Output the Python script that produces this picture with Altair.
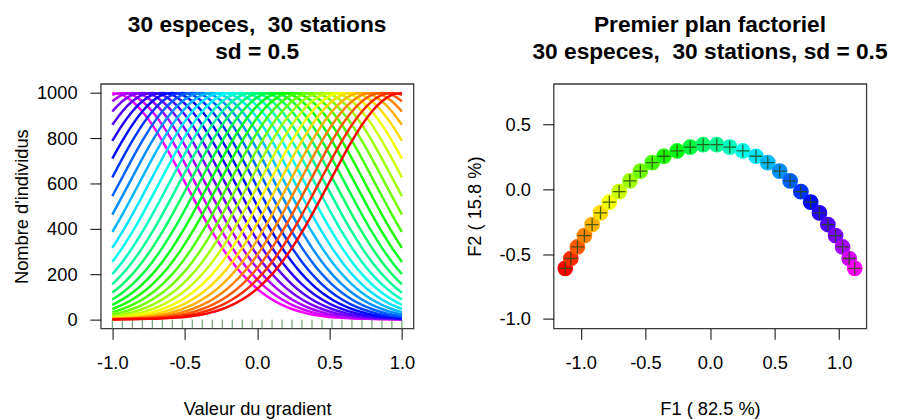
import colorsys
import altair as alt
import pandas as pd

# ---------------- data ----------------
# 30 stations along the gradient (rug ticks / x of the response curves)
stations = [-1.000, -0.931, -0.862, -0.793, -0.724, -0.655, -0.586, -0.517, -0.448, -0.379,
            -0.310, -0.241, -0.172, -0.103, -0.034, 0.034, 0.103, 0.172, 0.241, 0.310,
            0.379, 0.448, 0.517, 0.586, 0.655, 0.724, 0.793, 0.862, 0.931, 1.000]

# abundance of a species at a station, by distance (in station steps) to its optimum
profile = [1000, 991, 963, 918, 859, 788, 710, 627, 544, 463, 386, 316, 254, 200, 155,
           118, 88, 64, 46, 32, 22, 15, 10, 7, 4, 3, 2, 1, 1, 0]

# station index of each species optimum (species listed in drawing order: magenta ... red)
optimum_index = list(range(30))
species = ["e%02d" % (k + 1) for k in range(30)]

# first factorial plane (red -> magenta)
f1 = [-1.120, -1.077, -1.026, -0.972, -0.912, -0.847, -0.779, -0.703, -0.620, -0.539,
      -0.447, -0.356, -0.254, -0.153, -0.053, 0.053, 0.153, 0.254, 0.356, 0.447,
      0.539, 0.620, 0.703, 0.779, 0.847, 0.912, 0.972, 1.026, 1.077, 1.120]
f2 = [-0.610, -0.534, -0.445, -0.357, -0.272, -0.182, -0.099, -0.018, 0.065, 0.140,
      0.206, 0.255, 0.296, 0.325, 0.344, 0.344, 0.325, 0.296, 0.255, 0.206,
      0.140, 0.065, -0.018, -0.099, -0.182, -0.272, -0.357, -0.445, -0.534, -0.610]

NB = "\u00a0"  # keeps the double space visible in SVG text
left_title = ["30 especes," + NB + " 30 stations", "sd = 0.5"]
right_title = ["Premier plan factoriel", "30 especes," + NB + " 30 stations, sd = 0.5"]

# rainbow palette red (0) -> magenta (300 deg)
def rainbow(n):
    out = []
    for i in range(n):
        r, g, b = colorsys.hsv_to_rgb((i / (n - 1)) * 300 / 360, 1, 1)
        out.append("#%02x%02x%02x" % (round(r * 255), round(g * 255), round(b * 255)))
    return out

pal = rainbow(30)               # red ... magenta
pal_draw = pal[::-1]            # magenta ... red (drawing order of species)

rows = []
for s, opt in zip(species, optimum_index):
    for j, xv in enumerate(stations):
        rows.append({"sp": s, "x": xv, "n": profile[abs(j - opt)]})
curves = pd.DataFrame(rows)
rug = pd.DataFrame({"x": stations})
plane = pd.DataFrame({"f1": f1, "f2": f2, "pt": ["p%02d" % (k + 1) for k in range(30)]})

FONT = "Liberation Sans"
W, H = 317, 248
neg = "(datum.value < 0 ? '-' : '') + format(abs(datum.value), '.1f')"

# ---------------- left panel ----------------
xl = alt.X("x:Q", scale=alt.Scale(domain=[-1.08, 1.08], nice=False, zero=False),
           axis=alt.Axis(values=[-1, -0.5, 0, 0.5, 1], labelExpr=neg,
                         title="Valeur du gradient", titleX=W / 2, titleY=87,
                         titleBaseline="alphabetic", labelPadding=15))
yl = alt.Y("n:Q", scale=alt.Scale(domain=[-40, 1040], nice=False, zero=False),
           axis=alt.Axis(values=[0, 200, 400, 600, 800, 1000], format="d",
                         title="Nombre d'individus", titleX=-80, titleY=H / 2,
                         titleBaseline="middle", titleAngle=-90, labelPadding=13))

lines = alt.Chart(curves).mark_line(strokeWidth=2.5, interpolate="monotone").encode(
    x=xl, y=yl,
    color=alt.Color("sp:N", scale=alt.Scale(domain=species, range=pal_draw), legend=None),
)
rugs = alt.Chart(rug).mark_rule(color="#4f8f4f", strokeWidth=1).encode(
    x=alt.X("x:Q"), y=alt.value(H - 9), y2=alt.value(H)
)
left = alt.layer(lines, rugs).properties(
    width=W, height=H,
    title=alt.TitleParams(text=left_title, fontSize=23, fontWeight="bold", font=FONT,
                          lineHeight=28, anchor="middle", offset=20, color="black"),
)

# ---------------- right panel ----------------
xr = alt.X("f1:Q", scale=alt.Scale(domain=[-1.21, 1.21], nice=False, zero=False),
           axis=alt.Axis(values=[-1, -0.5, 0, 0.5, 1], labelExpr=neg,
                         title="F1 ( 82.5 %)", titleX=W / 2, titleY=87,
                         titleBaseline="alphabetic", labelPadding=15))
yr = alt.Y("f2:Q", scale=alt.Scale(domain=[-1.074, 0.814], nice=False, zero=False),
           axis=alt.Axis(values=[-1, -0.5, 0, 0.5], labelExpr=neg,
                         title="F2 ( 15.8 %)", titleX=-80, titleY=H / 2,
                         titleBaseline="middle", titleAngle=-90, labelPadding=12.5))

dots = alt.Chart(plane).mark_circle(size=254, opacity=1).encode(
    x=xr, y=yr,
    color=alt.Color("pt:N", scale=alt.Scale(domain=list(plane["pt"]), range=pal), legend=None),
)
plus = alt.Chart(plane).mark_point(
    shape="M-1,0H1M0,-1V1", size=169, filled=False, color="#2a4a10",
    strokeWidth=1.3, opacity=0.85,
).encode(x=alt.X("f1:Q"), y=alt.Y("f2:Q"))
right = alt.layer(dots, plus).properties(
    width=W, height=H,
    title=alt.TitleParams(text=right_title, fontSize=23, fontWeight="bold", font=FONT,
                          lineHeight=28, anchor="middle", offset=20, color="black"),
)

chart = alt.hconcat(left, right, spacing=142, bounds="flush").resolve_scale(
    color="independent"
).properties(
    background="white", padding={"left": 4, "top": 2, "right": 5, "bottom": 5}
).configure_axis(
    labelFont=FONT, titleFont=FONT, labelFontSize=18.5, titleFontSize=18.5,
    titleFontWeight="normal", labelColor="black", titleColor="black",
    tickColor="black", tickSize=11, tickWidth=1, grid=False, domain=False,
).configure_view(stroke="#3a3a3a", strokeWidth=1.3)

chart.save("out.html", embed_options={"renderer": "svg", "actions": False})
